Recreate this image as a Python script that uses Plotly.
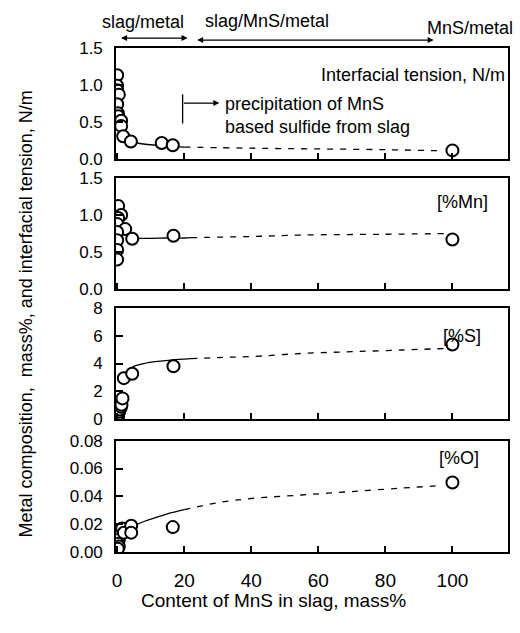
import plotly.graph_objects as go

# ---------------- data ----------------
# Panel 1: interfacial tension, N/m
it_x = [0, 0, 0, 0.5, 0, 0.2, 0.3, 1.2, 1.2, 1.8, 4.1, 13.3, 16.6, 100]
it_y = [1.13, 0.99, 0.93, 0.87, 0.74, 0.62, 0.58, 0.52, 0.45, 0.31, 0.24, 0.22, 0.19, 0.12]
it_solid_x = [1.8, 3, 4, 6, 9, 13, 17, 20]
it_solid_y = [0.33, 0.27, 0.245, 0.22, 0.2, 0.185, 0.17, 0.165]
it_dash_x = [20, 40, 60, 80, 97]
it_dash_y = [0.165, 0.15, 0.14, 0.13, 0.115]

# Panel 2: [%Mn]
mn_x = [0.3, 1.2, 0.3, 0, 2.4, 0, 4.5, 0, 0, 0, 16.8, 100]
mn_y = [1.12, 1.0, 0.96, 0.88, 0.81, 0.77, 0.68, 0.66, 0.53, 0.40, 0.72, 0.67]
mn_solid_x = [5, 10, 15, 20, 22]
mn_solid_y = [0.685, 0.685, 0.69, 0.69, 0.695]
mn_dash_x = [22, 40, 55, 79, 98]
mn_dash_y = [0.695, 0.71, 0.73, 0.74, 0.75]

# Panel 3: [%S]
s_x = [0.3, 0.3, 0.6, 0.8, 1.2, 1.3, 1.6, 2.0, 4.5, 16.8, 100]
s_y = [0.2, 0.35, 0.55, 0.7, 0.9, 1.05, 1.5, 2.95, 3.27, 3.8, 5.36]
s_solid_x = [1.8, 3, 5, 8, 12, 16, 22]
s_solid_y = [3.0, 3.5, 3.8, 4.0, 4.15, 4.25, 4.35]
s_dash_x = [22, 30, 40, 55, 70, 85, 98]
s_dash_y = [4.35, 4.43, 4.5, 4.72, 4.85, 4.97, 5.08]

# Panel 4: [%O]
o_x = [0, 0.3, 0.5, 0.3, 0.5, 0.2, 1.5, 2.0, 4.2, 4.2, 16.6, 100]
o_y = [0.015, 0.012, 0.009, 0.006, 0.004, 0.0025, 0.017, 0.014, 0.019, 0.014, 0.018, 0.05]
o_solid_x = [5, 8, 11, 15, 20]
o_solid_y = [0.019, 0.022, 0.0245, 0.0275, 0.0305]
o_dash_x = [20, 30, 40, 55, 70, 85, 97]
o_dash_y = [0.0305, 0.0355, 0.0385, 0.041, 0.0435, 0.046, 0.0478]

x_ticks = [0, 20, 40, 60, 80, 100]
y_ranges = [[0, 1.5], [0, 1.5], [0, 8], [0, 0.08]]
y_ticks = [[0, 0.5, 1.0, 1.5], [0, 0.5, 1.0, 1.5], [0, 2, 4, 6, 8], [0, 0.02, 0.04, 0.06, 0.08]]
y_formats = [".1f", ".1f", "d", ".2f"]
panel_labels = ["Interfacial tension, N/m", "[%Mn]", "[%S]", "[%O]"]

# ---------------- layout helpers ----------------
W, H = 520, 633
def px(x):
    return x / W
def py(y):
    return 1 - y / H

FONT = "Liberation Sans, Arial, sans-serif"
x_dom = [px(113), px(508)]
panel_px = [(40, 155), (174, 289), (308, 423), (445, 560)]

fig = go.Figure()

series = [
    (it_x, it_y, it_solid_x, it_solid_y, it_dash_x, it_dash_y),
    (mn_x, mn_y, mn_solid_x, mn_solid_y, mn_dash_x, mn_dash_y),
    (s_x, s_y, s_solid_x, s_solid_y, s_dash_x, s_dash_y),
    (o_x, o_y, o_solid_x, o_solid_y, o_dash_x, o_dash_y),
]

layout = {}
for i, (mx, my, sx, sy, dx, dy) in enumerate(series):
    n = "" if i == 0 else str(i + 1)
    xa, ya = "x" + n, "y" + n
    fig.add_trace(go.Scatter(x=sx, y=sy, mode="lines", xaxis=xa, yaxis=ya,
                             line=dict(color="black", width=1.3, shape="spline"),
                             showlegend=False, hoverinfo="skip"))
    fig.add_trace(go.Scatter(x=dx, y=dy, mode="lines", xaxis=xa, yaxis=ya,
                             line=dict(color="black", width=1.3, dash="6px,7px", shape="spline"),
                             showlegend=False, hoverinfo="skip"))
    fig.add_trace(go.Scatter(x=mx, y=my, mode="markers", xaxis=xa, yaxis=ya,
                             marker=dict(symbol="circle", size=12, color="white",
                                         line=dict(color="black", width=2)),
                             showlegend=False))
    top, bot = panel_px[i]
    layout["xaxis" + n] = dict(
        domain=x_dom, anchor=ya, range=[-0.3, 116.6],
        tickvals=x_ticks, showticklabels=(i == 3),
        ticks="inside", ticklen=6, tickwidth=1.5, tickcolor="black",
        showline=True, linecolor="black", linewidth=1.8, mirror=True,
        showgrid=False, zeroline=False,
        tickfont=dict(family=FONT, size=19, color="black"),
        ticklabelstandoff=10,
    )
    layout["yaxis" + n] = dict(
        domain=[py(bot), py(top)], anchor=xa, range=y_ranges[i],
        tickvals=y_ticks[i], tickformat=y_formats[i],
        ticks="inside", ticklen=7, tickwidth=1.5, tickcolor="black",
        showline=True, linecolor="black", linewidth=1.8, mirror=True,
        showgrid=False, zeroline=False,
        tickfont=dict(family=FONT, size=17, color="black"),
        ticklabelstandoff=8,
    )

annotations = []
# panel labels
annotations.append(dict(xref="paper", yref="paper", x=px(507), y=py(68), text=panel_labels[0],
                        xanchor="right", yanchor="middle", showarrow=False,
                        font=dict(family=FONT, size=18, color="black")))
for lab, cx, cy in [(panel_labels[1], 462, 199), (panel_labels[2], 462, 337), (panel_labels[3], 459, 463)]:
    annotations.append(dict(xref="paper", yref="paper", x=px(cx), y=py(cy), text=lab,
                            xanchor="center", yanchor="middle", showarrow=False,
                            font=dict(family=FONT, size=18, color="black")))
# precipitation note
annotations.append(dict(xref="paper", yref="paper", x=px(221), y=py(110),
                        text="precipitation of MnS<br>based sulfide from slag",
                        xanchor="left", yanchor="middle", align="left", showarrow=False,
                        font=dict(family=FONT, size=18, color="black")))
annotations.append(dict(xref="paper", yref="paper", x=px(217), y=py(97), text="",
                        showarrow=True, ax=-37, ay=0, arrowhead=2, arrowsize=1,
                        arrowwidth=1.2, arrowcolor="black"))
# header
for txt, cx, cy in [("slag/metal", 140, 13), ("slag/MnS/metal", 265, 12), ("MnS/metal", 470, 20)]:
    annotations.append(dict(xref="paper", yref="paper", x=px(cx), y=py(cy), text=txt,
                            xanchor="center", yanchor="middle", showarrow=False,
                            font=dict(family=FONT, size=18, color="black")))
for x0, x1, yy in [(117, 185, 30), (195, 433, 32)]:
    annotations.append(dict(xref="paper", yref="paper", x=px(x1), y=py(yy), text="",
                            showarrow=True, ax=-(x1 - x0), ay=0, arrowhead=2, arrowside="end+start",
                            arrowsize=1, arrowwidth=1.2, arrowcolor="black"))
# axis titles
annotations.append(dict(xref="paper", yref="paper", x=px(22), y=py(314),
                        text="Metal composition,  mass%, and interfacial tension, N/m",
                        textangle=-90, xanchor="center", yanchor="middle", showarrow=False,
                        font=dict(family=FONT, size=18, color="black")))
annotations.append(dict(xref="paper", yref="paper", x=px(272), y=py(610),
                        text="Content of MnS in slag, mass%",
                        xanchor="center", yanchor="middle", showarrow=False,
                        font=dict(family=FONT, size=19, color="black")))

shapes = [dict(type="line", xref="paper", yref="paper", x0=px(180), x1=px(180),
               y0=py(88), y1=py(118), line=dict(color="black", width=1.3))]

fig.update_layout(
    width=W, height=H, margin=dict(l=0, r=0, t=0, b=0),
    paper_bgcolor="white", plot_bgcolor="white",
    annotations=annotations, shapes=shapes, **layout,
)

fig.write_html("out.html")
